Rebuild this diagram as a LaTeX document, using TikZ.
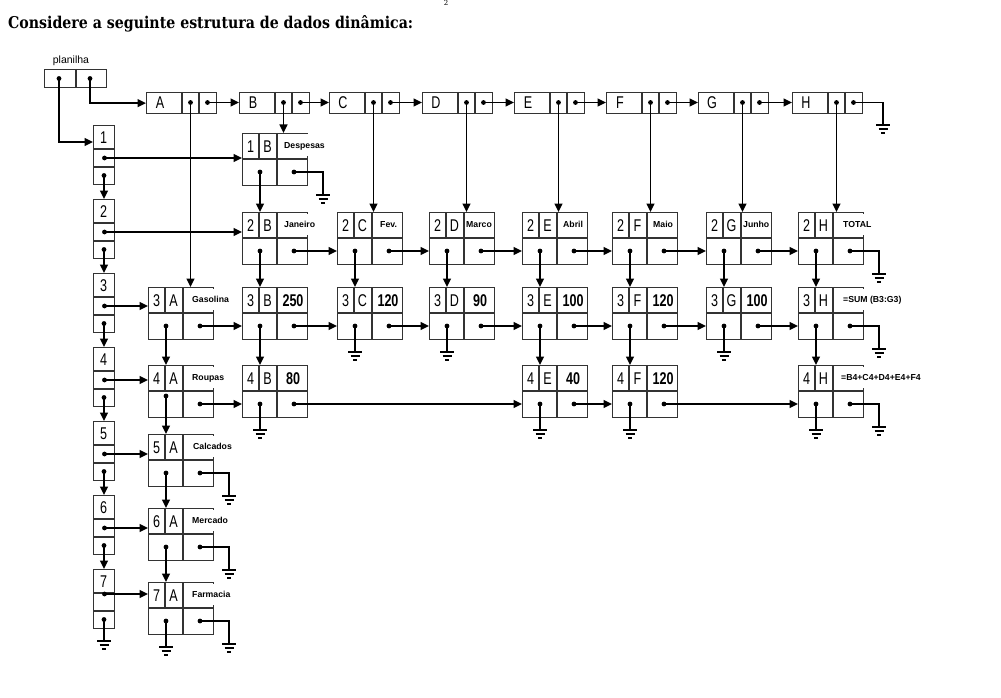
\documentclass[tikz,border=0pt]{standalone}
\usepackage{fontspec}
\usepackage{graphicx}
\usetikzlibrary{arrows.meta,calc}
\newfontfamily\lblfont[FakeStretch=0.74]{Liberation Sans}
\newfontfamily\smlfont{Liberation Sans}
\newfontfamily\ttlfont{DejaVu Serif}

\tikzset{
  boxdraw/.style={draw=black!80, line width=1.25pt},
  cellbox/.style={boxdraw, inner sep=0pt, anchor=north west},
  conn/.style={line width=1.6pt, -{Triangle[length=8.5pt,width=8pt]}},
  wire/.style={line width=1.6pt},
  gline/.style={line width=1.3pt},
  bigtxt/.style={font=\lblfont\fontsize{17}{17}\selectfont, inner sep=0pt},
  valtxt/.style={font=\lblfont\bfseries\fontsize{17}{17}\selectfont, inner sep=0pt},
  smallw/.style={font=\smlfont\bfseries\fontsize{8.7}{9}\selectfont, anchor=west, fill=white,
     inner xsep=1.5pt, inner ysep=0pt, minimum height=21pt, text height=6.3pt, text depth=0pt},
  smalln/.style={smallw, fill=none},
}

% ground symbol at a named coordinate
\newcommand\gndsym[1]{%
  \draw[gline] ($(#1)+(-7,0)$) -- ($(#1)+(7,0)$);
  \draw[gline] ($(#1)+(-4.5,4)$) -- ($(#1)+(4.5,4)$);
  \draw[gline] ($(#1)+(-2,8)$) -- ($(#1)+(2,8)$);}

% cell: name, left, top, number, letter
\newcommand\mkcell[5]{%
  \node[cellbox, minimum width=65pt, minimum height=52pt] (#1) at (#2,#3) {};
  \draw[boxdraw] (#2,#3+26) -- (#2+65,#3+26);
  \draw[boxdraw] (#2+17,#3) -- (#2+17,#3+26);
  \draw[boxdraw] (#2+35,#3) -- (#2+35,#3+52);
  \node[bigtxt] (#1-n) at (#2+8.5,#3+14) {#4};
  \node[bigtxt] (#1-l) at (#2+25.5,#3+14) {#5};
  \coordinate (#1-p) at (#2+18,#3+39);
  \coordinate (#1-q) at (#2+52,#3+39);}

% column head: name, left, letter
\newcommand\mkhead[3]{%
  \node[cellbox, minimum width=70pt, minimum height=21pt] (#1) at (#2,92) {};
  \draw[boxdraw] (#2+36,92) -- (#2+36,113);
  \draw[boxdraw] (#2+53,92) -- (#2+53,113);
  \node[bigtxt] (#1-t) at (#2+14,102.5) {#3};
  \coordinate (#1-m) at (#2+44.5,102.5);
  \coordinate (#1-r) at (#2+61.5,102.5);}

% row list box: name, top, number
\newcommand\mklist[3]{%
  \node[cellbox, minimum width=21pt, minimum height=59pt] (#1) at (93,#2) {};
  \draw[boxdraw] (93,#2+24) -- (114,#2+24);
  \draw[boxdraw] (93,#2+42) -- (114,#2+42);
  \node[bigtxt] (#1-t) at (103.5,#2+12.5) {#3};
  \coordinate (#1-m) at (104.5,#2+33);
  \coordinate (#1-b) at (104,#2+50.5);}

\newcommand\lgnd[1]{%
  \coordinate (#1-gl) at ($(#1-p)+(0,26)$);
  \draw[wire] (#1-p) -- (#1-gl);
  \gndsym{#1-gl}}
\newcommand\rgnd[1]{%
  \coordinate (#1-gr) at ($(#1-q)+(29,23)$);
  \draw[wire] (#1-q) -| (#1-gr);
  \gndsym{#1-gr}}

\begin{document}
\begin{tikzpicture}[x=1pt,y=-1pt]
\useasboundingbox (0,0) rectangle (1001,698);

% title and page number
\node[anchor=base west, inner sep=0pt] (title) at (8,29)
  {\resizebox{405pt}{13pt}{\ttlfont\bfseries Considere a seguinte estrutura de dados dinâmica:}};
\node[inner sep=0pt, font=\ttlfont\fontsize{7}{7}\selectfont] (pgno) at (446,3) {2};

% planilha
\node[inner sep=0pt, font=\smlfont\fontsize{10.5}{11}\selectfont] (pltxt) at (71,60.5) {planilha};
\node[cellbox, minimum width=62pt, minimum height=18pt] (pl) at (44,69) {};
\draw[boxdraw] (76,69) -- (76,87);
\coordinate (pl-a) at (59,78.5);
\coordinate (pl-b) at (90,78.5);

% column heads
\mkhead{hA}{146}{A}
\mkhead{hB}{239}{B}
\mkhead{hC}{329}{C}
\mkhead{hD}{422}{D}
\mkhead{hE}{514}{E}
\mkhead{hF}{606}{F}
\mkhead{hG}{698}{G}
\mkhead{hH}{792}{H}

% row list
\mklist{L1}{125}{1}
\mklist{L2}{199}{2}
\mklist{L3}{273}{3}
\mklist{L4}{347}{4}
\mklist{L5}{421}{5}
\mklist{L6}{495}{6}
\mklist{L7}{569}{7}
\coordinate (L7-m) at (104.5,594);

% cells
\mkcell{c1B}{242}{133}{1}{B}
\mkcell{c2B}{242}{212}{2}{B}
\mkcell{c2C}{337}{212}{2}{C}
\mkcell{c2D}{429}{212}{2}{D}
\mkcell{c2E}{522}{212}{2}{E}
\mkcell{c2F}{612}{212}{2}{F}
\mkcell{c2G}{706}{212}{2}{G}
\mkcell{c2H}{798}{212}{2}{H}
\mkcell{c3A}{148}{287}{3}{A}
\mkcell{c3B}{242}{287}{3}{B}
\mkcell{c3C}{337}{287}{3}{C}
\mkcell{c3D}{429}{287}{3}{D}
\mkcell{c3E}{522}{287}{3}{E}
\mkcell{c3F}{612}{287}{3}{F}
\mkcell{c3G}{706}{287}{3}{G}
\mkcell{c3H}{798}{287}{3}{H}
\mkcell{c4A}{148}{365}{4}{A}
\mkcell{c4B}{242}{365}{4}{B}
\mkcell{c4E}{522}{365}{4}{E}
\mkcell{c4F}{612}{365}{4}{F}
\mkcell{c4H}{798}{365}{4}{H}
\mkcell{c5A}{148}{434}{5}{A}
\mkcell{c6A}{148}{508}{6}{A}
\mkcell{c7A}{148}{582}{7}{A}
\coordinate (c4A-p) at (166,396);

% cell values
\node[smallw] (v1B) at (282.5,145) {Despesas};
\node[smallw] (v2B) at (282.5,224.5) {Janeiro};
\node[smalln] (v2C) at (378.5,224.5) {Fev.};
\node[smalln] (v2D) at (464.5,224.5) {Marco};
\node[smalln] (v2E) at (561.5,224.5) {Abril};
\node[smalln] (v2F) at (651.5,224.5) {Maio};
\node[smalln] (v2G) at (741.5,224.5) {Junho};
\node[smallw] (v2H) at (841.5,224.5) {TOTAL};
\node[smallw] (v3A) at (190.5,299.5) {Gasolina};
\node[valtxt] (v3B) at (293,301) {250};
\node[valtxt] (v3C) at (388,301) {120};
\node[valtxt] (v3D) at (480,301) {90};
\node[valtxt] (v3E) at (573,301) {100};
\node[valtxt] (v3F) at (663,301) {120};
\node[valtxt] (v3G) at (757,301) {100};
\node[smallw] (v3H) at (841.5,299.5) {=SUM (B3:G3)};
\node[smallw] (v4A) at (190.5,377.5) {Roupas};
\node[valtxt] (v4B) at (293,379) {80};
\node[valtxt] (v4E) at (573,379) {40};
\node[valtxt] (v4F) at (663,379) {120};
\node[smallw] (v4H) at (839.5,377.5) {=B4+C4+D4+E4+F4};
\node[smallw] (v5A) at (191.5,446.5) {Calcados};
\node[smallw] (v6A) at (190.5,520.5) {Mercado};
\node[smallw] (v7A) at (190.5,594.5) {Farmacia};

% planilha pointers
\draw[conn] (pl-a) |- ($(L1.north west)+(0,17)$);
\draw[conn] (pl-b) |- (hA.west);

% head chain
\draw[conn] (hA-r) -- (hA-r -| hB.west);
\draw[conn] (hB-r) -- (hB-r -| hC.west);
\draw[conn] (hC-r) -- (hC-r -| hD.west);
\draw[conn] (hD-r) -- (hD-r -| hE.west);
\draw[conn] (hE-r) -- (hE-r -| hF.west);
\draw[conn] (hF-r) -- (hF-r -| hG.west);
\draw[conn] (hG-r) -- (hG-r -| hH.west);
\coordinate (hH-g) at (883,125);
\draw[wire] (hH-r) -| (hH-g);
\gndsym{hH-g}

% head down pointers
\draw[conn] (hA-m) -- (hA-m |- c3A.north);
\draw[conn] (hB-m) -- (hB-m |- c1B.north);
\draw[conn] (hC-m) -- (hC-m |- c2C.north);
\draw[conn] (hD-m) -- (hD-m |- c2D.north);
\draw[conn] (hE-m) -- (hE-m |- c2E.north);
\draw[conn] (hF-m) -- (hF-m |- c2F.north);
\draw[conn] (hG-m) -- (hG-m |- c2G.north);
\draw[conn] (hH-m) -- (hH-m |- c2H.north);

% row list chain
\draw[conn] (L1-b) -- (L1-b |- L2.north);
\draw[conn] (L2-b) -- (L2-b |- L3.north);
\draw[conn] (L3-b) -- (L3-b |- L4.north);
\draw[conn] (L4-b) -- (L4-b |- L5.north);
\draw[conn] (L5-b) -- (L5-b |- L6.north);
\draw[conn] (L6-b) -- (L6-b |- L7.north);
\coordinate (L7-g) at (104,641);
\draw[wire] (L7-b) -- (L7-g);
\gndsym{L7-g}

% row list to rows
\draw[conn] (L1-m) -- (L1-m -| c1B.west);
\draw[conn] (L2-m) -- (L2-m -| c2B.west);
\draw[conn] (L3-m) -- (L3-m -| c3A.west);
\draw[conn] (L4-m) -- (L4-m -| c4A.west);
\draw[conn] (L5-m) -- (L5-m -| c5A.west);
\draw[conn] (L6-m) -- (L6-m -| c6A.west);
\draw[conn] (L7-m) -- (L7-m -| c7A.west);

% columns
\draw[conn] (c3A-p) -- (c3A-p |- c4A.north);
\draw[conn] (c4A-p) -- (c4A-p |- c5A.north);
\draw[conn] (c5A-p) -- (c5A-p |- c6A.north);
\draw[conn] (c6A-p) -- (c6A-p |- c7A.north);
\lgnd{c7A}
\draw[conn] (c1B-p) -- (c1B-p |- c2B.north);
\draw[conn] (c2B-p) -- (c2B-p |- c3B.north);
\draw[conn] (c3B-p) -- (c3B-p |- c4B.north);
\lgnd{c4B}
\draw[conn] (c2C-p) -- (c2C-p |- c3C.north);
\lgnd{c3C}
\draw[conn] (c2D-p) -- (c2D-p |- c3D.north);
\lgnd{c3D}
\draw[conn] (c2E-p) -- (c2E-p |- c3E.north);
\draw[conn] (c3E-p) -- (c3E-p |- c4E.north);
\lgnd{c4E}
\draw[conn] (c2F-p) -- (c2F-p |- c3F.north);
\draw[conn] (c3F-p) -- (c3F-p |- c4F.north);
\lgnd{c4F}
\draw[conn] (c2G-p) -- (c2G-p |- c3G.north);
\lgnd{c3G}
\draw[conn] (c2H-p) -- (c2H-p |- c3H.north);
\draw[conn] (c3H-p) -- (c3H-p |- c4H.north);
\lgnd{c4H}

% rows
\rgnd{c1B}
\draw[conn] (c2B-q) -- (c2B-q -| c2C.west);
\draw[conn] (c2C-q) -- (c2C-q -| c2D.west);
\draw[conn] (c2D-q) -- (c2D-q -| c2E.west);
\draw[conn] (c2E-q) -- (c2E-q -| c2F.west);
\draw[conn] (c2F-q) -- (c2F-q -| c2G.west);
\draw[conn] (c2G-q) -- (c2G-q -| c2H.west);
\rgnd{c2H}
\draw[conn] (c3A-q) -- (c3A-q -| c3B.west);
\draw[conn] (c3B-q) -- (c3B-q -| c3C.west);
\draw[conn] (c3C-q) -- (c3C-q -| c3D.west);
\draw[conn] (c3D-q) -- (c3D-q -| c3E.west);
\draw[conn] (c3E-q) -- (c3E-q -| c3F.west);
\draw[conn] (c3F-q) -- (c3F-q -| c3G.west);
\draw[conn] (c3G-q) -- (c3G-q -| c3H.west);
\rgnd{c3H}
\draw[conn] (c4A-q) -- (c4A-q -| c4B.west);
\draw[conn] (c4B-q) -- (c4B-q -| c4E.west);
\draw[conn] (c4E-q) -- (c4E-q -| c4F.west);
\draw[conn] (c4F-q) -- (c4F-q -| c4H.west);
\rgnd{c4H}
\rgnd{c5A}
\rgnd{c6A}
\rgnd{c7A}

% dots
\foreach \n in {pl-a,pl-b,hA-m,hA-r,hB-m,hB-r,hC-m,hC-r,hD-m,hD-r,hE-m,hE-r,hF-m,hF-r,hG-m,hG-r,hH-m,hH-r,
  L1-m,L1-b,L2-m,L2-b,L3-m,L3-b,L4-m,L4-b,L5-m,L5-b,L6-m,L6-b,L7-m,L7-b}
  {\fill (\n) circle (2.4pt);}
\foreach \n in {c1B,c2B,c2C,c2D,c2E,c2F,c2G,c2H,c3A,c3B,c3C,c3D,c3E,c3F,c3G,c3H,c4A,c4B,c4E,c4F,c4H,c5A,c6A,c7A}
  {\fill (\n-p) circle (2.4pt); \fill (\n-q) circle (2.4pt);}
\end{tikzpicture}
\end{document}
